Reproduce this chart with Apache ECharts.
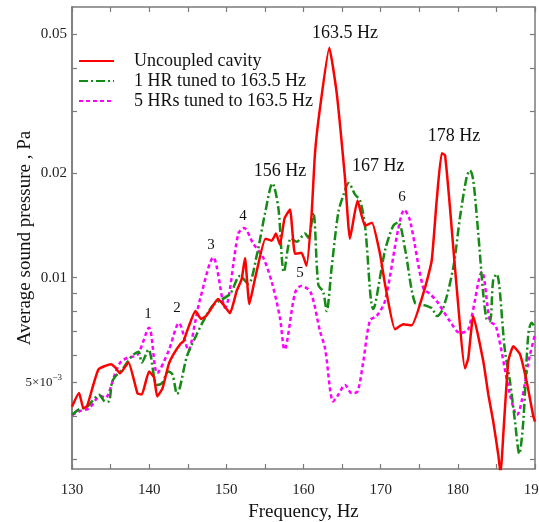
<!DOCTYPE html>
<html><head><meta charset="utf-8">
<script src="https://cdn.jsdelivr.net/npm/echarts@6/dist/echarts.min.js"></script>
<style>html,body{margin:0;padding:0;background:#fff}#c{width:539px;height:522px}</style>
</head><body><div id="c"></div>
<script>
// ---- data ----
const uncoupledFreq = [130.0,130.91,131.49,131.98,133.43,135.05,135.57,136.22,137.32,138.49,139.05,139.98,140.63,141.04,141.73,142.53,143.22,144.12,144.45,145.1,146.0,146.72,147.36,148.01,148.92,149.57,150.47,151.34,151.99,152.42,152.98,153.71,155.07,155.88,156.43,156.95,157.54,158.25,158.9,159.74,160.39,161.04,161.49,162.14,163.34,164.3,165.37,166.02,167.0,167.97,168.87,169.91,170.56,171.86,172.93,174.02,175.74,176.61,177.26,177.91,178.34,178.98,179.63,180.93,181.35,182.0,183.3,183.95,184.59,185.24,185.55,185.89,186.54,187.19,188.05,188.92,189.78,190.0];
const uncoupledValues = [0.00426,0.00466,0.00421,0.00429,0.00545,0.00564,0.00553,0.00531,0.00571,0.00465,0.00462,0.00538,0.00517,0.00456,0.00481,0.00564,0.00606,0.00648,0.00657,0.00721,0.00802,0.00761,0.00776,0.00813,0.00869,0.0084,0.00791,0.00916,0.00992,0.0114,0.0084,0.00992,0.01295,0.01278,0.01339,0.01245,0.0148,0.01571,0.01172,0.0118,0.01082,0.0151,0.02279,0.03076,0.04585,0.03399,0.01943,0.01295,0.01668,0.01412,0.0144,0.01172,0.0096,0.00711,0.00735,0.0073,0.00935,0.01119,0.01668,0.02279,0.02249,0.01592,0.01068,0.00549,0.00587,0.00776,0.00575,0.00462,0.00386,0.0031,0.00272,0.00354,0.00575,0.00635,0.00603,0.00503,0.004,0.00386];

const oneHRFreq = [130.0,131.04,131.98,132.59,133.5,134.28,134.76,135.18,135.61,136.61,137.52,138.03,138.62,139.05,139.91,140.99,141.64,142.5,143.02,143.61,144.9,145.94,147.01,148.31,150.47,151.77,152.85,153.93,155.01,155.98,156.73,157.47,158.38,159.12,160.19,160.62,161.27,161.92,162.56,163.0,163.65,164.51,165.16,165.86,166.67,167.32,167.97,169.04,170.56,171.64,172.28,173.15,174.45,175.31,176.61,177.3,178.11,179.41,180.28,181.15,181.57,182.0,182.65,183.3,183.74,184.17,184.59,185.03,186.11,186.76,187.41,187.96,188.48,189.13,189.57,190.0];
const oneHRValues = [0.00404,0.0042,0.00426,0.00441,0.00461,0.00441,0.00441,0.005,0.0052,0.00549,0.00587,0.00603,0.00613,0.00571,0.00622,0.00492,0.00497,0.00538,0.00527,0.00463,0.00595,0.00671,0.0075,0.00835,0.00898,0.01012,0.0096,0.01156,0.0153,0.01867,0.01595,0.01039,0.01299,0.01269,0.01339,0.01304,0.0154,0.00954,0.0091,0.00802,0.0107,0.0154,0.01724,0.01871,0.01736,0.01668,0.01412,0.00813,0.01196,0.01412,0.01443,0.01212,0.00846,0.00838,0.00818,0.00776,0.00818,0.0107,0.01492,0.01947,0.02036,0.01905,0.01336,0.00896,0.00759,0.0075,0.0099,0.01024,0.00615,0.00503,0.00386,0.00312,0.00386,0.00688,0.00742,0.00721];

const fiveHRFreq = [130.0,131.17,132.2,133.67,134.32,135.57,136.26,137.19,138.49,139.98,141.05,142.5,143.87,145.1,145.94,146.63,148.31,149.83,151.55,152.29,153.49,154.79,155.92,156.95,157.54,158.9,159.67,160.91,162.14,162.79,163.86,164.51,165.38,166.24,167.0,167.75,168.62,169.48,170.56,172.28,173.06,173.8,175.52,176.39,177.26,178.98,180.28,181.35,183.13,184.17,184.94,186.76,187.63,189.35,190.0];
const fiveHRValues = [0.00403,0.00415,0.00421,0.00457,0.00452,0.00529,0.00571,0.00589,0.00601,0.00718,0.00532,0.00615,0.0074,0.00619,0.00742,0.00874,0.01143,0.0082,0.01339,0.0139,0.01253,0.01141,0.00966,0.00766,0.00622,0.00904,0.00947,0.0091,0.00702,0.00627,0.00441,0.00461,0.00492,0.00466,0.00471,0.00575,0.00755,0.00776,0.00857,0.01381,0.01567,0.0146,0.00935,0.00898,0.00857,0.0075,0.00694,0.0071,0.01039,0.0075,0.00726,0.00461,0.00403,0.00601,0.00687];

const seriesNames = ['Uncoupled cavity', '1 HR tuned to 163.5 Hz', '5 HRs tuned to 163.5 Hz'];

const annotationTexts = ['163.5 Hz', '156 Hz', '167 Hz', '178 Hz'];
const annotationFreqs = [165.38, 156.95, 169.69, 179.5];
const annotationValues = [0.0505, 0.02027, 0.02092, 0.02551];

const peakLabels = ['1', '2', '3', '4', '5', '6'];
const peakFreqs = [139.85, 143.61, 148.01, 152.16, 159.55, 172.76];
const peakValues = [0.00784, 0.00816, 0.01238, 0.0150, 0.01028, 0.01711];

const xMin = 130, xMax = 190, xInterval = 10;
const yMin = 0.00282, yMax = 0.0600;
const yTickValues = [0.003, 0.004, 0.005, 0.006, 0.007, 0.008, 0.009, 0.01, 0.02, 0.03, 0.04, 0.05];
const yLabelValues = [0.005, 0.01, 0.02, 0.05];

// ---- chart ----
const serif = '"Liberation Serif", "DejaVu Serif", serif';
const axisGray = '#7a7a7a';
const pairs = (xs, ys) => xs.map((x, i) => [x, ys[i]]);
const lg = v => Math.log10(v);

function yLabel(v) {
  const x = Math.pow(10, v);
  if (Math.abs(x - 0.005) < 1e-7) return '{m|5×10}{s|−3}{g|}';
  return '{n|' + String(+x.toFixed(4)) + '}';
}

const annData = annotationTexts.map((t, i) => ({ name: t, coord: [annotationFreqs[i], annotationValues[i]] }));
const peakData = peakLabels.map((t, i) => ({ name: t, coord: [peakFreqs[i], peakValues[i]],
  label: { fontSize: 15 } }));

const chart = echarts.init(document.getElementById('c'), null, { renderer: 'canvas' });
chart.setOption({
  animation: false,
  backgroundColor: '#fff',
  textStyle: { fontFamily: serif },
  grid: { left: 72, right: 4, top: 7, bottom: 53, outerBoundsMode: 'none', containLabel: false },
  legend: {
    orient: 'vertical', left: 78, top: 51, padding: 0,
    itemWidth: 35, itemHeight: 20, itemGap: 0,
    itemStyle: { opacity: 0 },
    textStyle: { fontFamily: serif, fontSize: 18, color: '#111', padding: [0, 0, 0, 15], lineHeight: 20 },
    data: seriesNames
  },
  xAxis: [{
    type: 'value', min: xMin, max: xMax, interval: xInterval, position: 'bottom',
    name: 'Frequency, Hz', nameLocation: 'middle', nameGap: 29,
    nameTextStyle: { fontFamily: serif, fontSize: 19, color: '#111' },
    axisLine: { show: true, lineStyle: { color: axisGray, width: 1.5 } },
    axisTick: { show: true, inside: true, length: 5, lineStyle: { color: axisGray, width: 1.2 } },
    minorTick: { show: true, splitNumber: 2, length: 5, lineStyle: { color: axisGray, width: 1.2 } },
    axisLabel: { fontFamily: serif, fontSize: 15, color: '#222', margin: 14 },
    splitLine: { show: false }
  }, {
    type: 'value', min: xMin, max: xMax, interval: xInterval, position: 'top',
    axisLine: { show: true, lineStyle: { color: axisGray, width: 1.5 } },
    axisTick: { show: true, inside: true, length: 5, lineStyle: { color: axisGray, width: 1.2 } },
    minorTick: { show: true, splitNumber: 2, length: 5, lineStyle: { color: axisGray, width: 1.2 } },
    axisLabel: { show: false }, splitLine: { show: false }
  }],
  yAxis: [{
    type: 'log', logBase: 10, min: yMin, max: yMax, position: 'left',
    name: 'Average sound pressure , Pa', nameLocation: 'middle', nameGap: 37,
    nameTextStyle: { fontFamily: serif, fontSize: 19, color: '#111' },
    axisLine: { show: true, lineStyle: { color: axisGray, width: 1.5 } },
    axisTick: { show: false }, axisLabel: { show: false }, splitLine: { show: false }, minorTick: { show: false }
  }, {
    type: 'value', min: lg(yMin), max: lg(yMax), position: 'left',
    axisLine: { show: true, lineStyle: { color: axisGray, width: 1.5 } },
    axisTick: { show: true, inside: true, length: 5, customValues: yTickValues.map(lg), lineStyle: { color: axisGray, width: 1.2 } },
    axisLabel: {
      customValues: yLabelValues.map(lg), margin: 5, formatter: yLabel,
      rich: {
        n: { fontFamily: serif, fontSize: 15, color: '#222' },
        m: { fontFamily: serif, fontSize: 13, color: '#222' },
        s: { fontFamily: serif, fontSize: 9, color: '#222', verticalAlign: 'top', padding: [0, 0, 9, 0] },
        g: { width: 5 }
      }
    },
    splitLine: { show: false }
  }, {
    type: 'value', min: lg(yMin), max: lg(yMax), position: 'right',
    axisLine: { show: true, lineStyle: { color: axisGray, width: 1.5 } },
    axisTick: { show: true, inside: true, length: 5, customValues: yTickValues.map(lg), lineStyle: { color: axisGray, width: 1.2 } },
    axisLabel: { show: false }, splitLine: { show: false }
  }],
  series: [{
    name: seriesNames[0], type: 'line', xAxisIndex: 0, yAxisIndex: 0, z: 5,
    data: pairs(uncoupledFreq, uncoupledValues), showSymbol: false, symbol: 'none', smooth: 0.15,
    lineStyle: { color: '#ff0000', width: 2.5, type: 'solid' }, itemStyle: { color: '#ff0000' },
    markPoint: {
      symbol: 'circle', symbolSize: 0, silent: true,
      label: { show: true, position: 'inside', formatter: p => p.name, fontFamily: serif, fontSize: 18, color: '#111' },
      data: annData.concat(peakData)
    }
  }, {
    name: seriesNames[1], type: 'line', xAxisIndex: 0, yAxisIndex: 0, z: 4,
    data: pairs(oneHRFreq, oneHRValues), showSymbol: false, symbol: 'none', smooth: 0.3,
    lineStyle: { color: '#158a15', width: 2.5, type: [9, 3, 2, 3] }, itemStyle: { color: '#158a15' }
  }, {
    name: seriesNames[2], type: 'line', xAxisIndex: 0, yAxisIndex: 0, z: 3,
    data: pairs(fiveHRFreq, fiveHRValues), showSymbol: false, symbol: 'none', smooth: 0.3,
    lineStyle: { color: '#ff00ff', width: 2.5, type: [4, 3] }, itemStyle: { color: '#ff00ff' }
  }]
});
</script>
</body></html>
